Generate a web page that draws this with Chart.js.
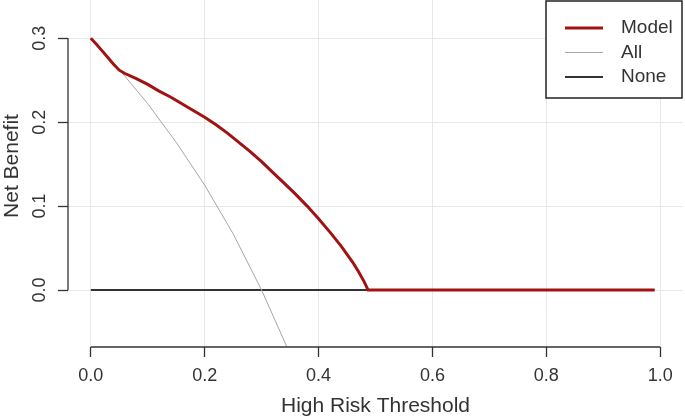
<!DOCTYPE html>
<html>
<head>
<meta charset="utf-8">
<script src="https://cdn.jsdelivr.net/npm/chart.js@4/dist/chart.umd.min.js"></script>
<style>
  html, body { margin: 0; padding: 0; background: #fff; overflow: hidden; }
  #wrap { position: relative; width: 685px; height: 419px; overflow: hidden; }
  /* the original figure is cropped a little at the top */
  #dca { position: absolute; left: 0; top: -15px; }
</style>
</head>
<body>
<div id="wrap"><canvas id="dca" width="685" height="434"></canvas></div>
<script>
// decision curve: net benefit against threshold
var modelThreshold = [0, 0.01, 0.02, 0.03, 0.04, 0.05, 0.06, 0.08, 0.10, 0.12, 0.14, 0.16, 0.18, 0.20,
  0.22, 0.24, 0.26, 0.28, 0.30, 0.32, 0.34, 0.36, 0.38, 0.40, 0.42, 0.44, 0.46, 0.47, 0.48, 0.487,
  0.55, 0.65, 0.75, 0.85, 0.95, 0.99];
var modelBenefit = [0.300, 0.293, 0.285, 0.277, 0.269, 0.262, 0.258, 0.252, 0.245, 0.237, 0.230, 0.222, 0.214, 0.206,
  0.197, 0.187, 0.176, 0.165, 0.153, 0.140, 0.127, 0.114, 0.100, 0.085, 0.069, 0.052, 0.033, 0.022, 0.010, 0.0,
  0.0, 0.0, 0.0, 0.0, 0.0, 0.0];

var allThreshold = [0, 0.05, 0.10, 0.15, 0.20, 0.25, 0.30, 0.34, 0.35];
var allBenefit = [0.300, 0.263, 0.222, 0.176, 0.125, 0.067, 0.0, -0.061, -0.077];

var noneThreshold = [0, 0.99];
var noneBenefit = [0, 0];

var xTicks = [0, 0.2, 0.4, 0.6, 0.8, 1.0];
var yTicks = [0, 0.1, 0.2, 0.3];

var seriesNames = ["Model", "All", "None"];
var seriesColors = ["#a11313", "#a6a6a6", "#333333"];
var seriesWidths = [3, 1, 1.8];

var fontName = "'Liberation Sans', Arial, sans-serif";
var textColor = "#333";

function pairs(xs, ys) {
  var out = [];
  for (var i = 0; i < xs.length; i++) {
    out.push({x: xs[i], y: ys[i]});
  }
  return out;
}

// R style axes: line only from first to last tick, plus the legend box
var rStyle = {
  id: "rStyle",
  afterDraw: function(chart) {
    var ctx = chart.ctx;
    var xs = chart.scales.x, ys = chart.scales.y;
    var area = chart.chartArea;
    ctx.save();
    ctx.strokeStyle = "#333";
    ctx.lineWidth = 1.3;
    ctx.beginPath();
    ctx.moveTo(xs.getPixelForValue(xTicks[0]), area.bottom);
    ctx.lineTo(xs.getPixelForValue(xTicks[xTicks.length - 1]), area.bottom);
    ctx.moveTo(area.left, ys.getPixelForValue(yTicks[0]));
    ctx.lineTo(area.left, ys.getPixelForValue(yTicks[yTicks.length - 1]));
    ctx.stroke();

    // legend
    var bx = 546, by = 16, bw = 136, bh = 97;
    ctx.fillStyle = "#fff";
    ctx.fillRect(bx, by, bw, bh);
    ctx.strokeStyle = "#222";
    ctx.lineWidth = 1.5;
    ctx.strokeRect(bx, by, bw, bh);
    ctx.font = "19px " + fontName;
    ctx.textBaseline = "middle";
    ctx.textAlign = "left";
    for (var i = 0; i < seriesNames.length; i++) {
      var ly = 43 + i * 24.5;
      ctx.strokeStyle = seriesColors[i];
      ctx.lineWidth = seriesWidths[i];
      ctx.beginPath();
      ctx.moveTo(565, ly);
      ctx.lineTo(603, ly);
      ctx.stroke();
      ctx.fillStyle = textColor;
      ctx.fillText(seriesNames[i], 621, ly);
    }
    ctx.restore();
  }
};

function load() {
  var datasets = [];
  var xsAll = [modelThreshold, allThreshold, noneThreshold];
  var ysAll = [modelBenefit, allBenefit, noneBenefit];
  for (var i = 0; i < seriesNames.length; i++) {
    datasets.push({
      label: seriesNames[i],
      data: pairs(xsAll[i], ysAll[i]),
      showLine: true,
      borderColor: seriesColors[i],
      backgroundColor: seriesColors[i],
      borderWidth: seriesWidths[i],
      pointRadius: 0,
      tension: 0,
      order: i
    });
  }

  var config = {
    type: "scatter",
    data: { datasets: datasets },
    options: {
      responsive: false,
      animation: false,
      layout: { padding: { top: 0, right: 2, left: 0, bottom: 0 } },
      plugins: { legend: { display: false }, tooltip: { enabled: false } },
      scales: {
        x: {
          type: "linear",
          min: -0.04,
          max: 1.04,
          afterBuildTicks: function(scale) {
            scale.ticks = xTicks.map(function(v) { return {value: v}; });
          },
          afterFit: function(scale) {
            scale.height = 72;
            scale.paddingLeft = 0;
            scale.paddingRight = 0;
          },
          ticks: {
            callback: function(v) { return v.toFixed(1); },
            font: { size: 18, family: fontName },
            color: textColor,
            padding: 8,
            maxRotation: 0
          },
          grid: { color: "#e8e8e8", lineWidth: 1, tickColor: "#333", tickLength: 10, tickWidth: 1.3 },
          border: { display: false },
          title: {
            display: true,
            text: "High Risk Threshold",
            font: { size: 21, family: fontName },
            color: textColor,
            padding: { top: 0, bottom: 0 }
          }
        },
        y: {
          type: "linear",
          min: -0.0679,
          max: 0.3635,
          afterBuildTicks: function(scale) {
            scale.ticks = yTicks.map(function(v) { return {value: v}; });
          },
          afterFit: function(scale) {
            scale.width = 68;
            scale.paddingTop = 0;
            scale.paddingBottom = 0;
          },
          ticks: {
            callback: function(v) { return v.toFixed(1); },
            font: { size: 18, family: fontName },
            color: textColor,
            padding: 5,
            minRotation: 90,
            maxRotation: 90,
            crossAlign: "center"
          },
          grid: { color: "#e8e8e8", lineWidth: 1, tickColor: "#333", tickLength: 10, tickWidth: 1.3 },
          border: { display: false },
          title: {
            display: true,
            text: "Net Benefit",
            font: { size: 21, family: fontName },
            color: textColor,
            padding: { top: 0, bottom: 0 }
          }
        }
      }
    },
    plugins: [rStyle]
  };

  new Chart(document.getElementById("dca").getContext("2d"), config);
}

document.addEventListener("DOMContentLoaded", load, false);
</script>
</body>
</html>
